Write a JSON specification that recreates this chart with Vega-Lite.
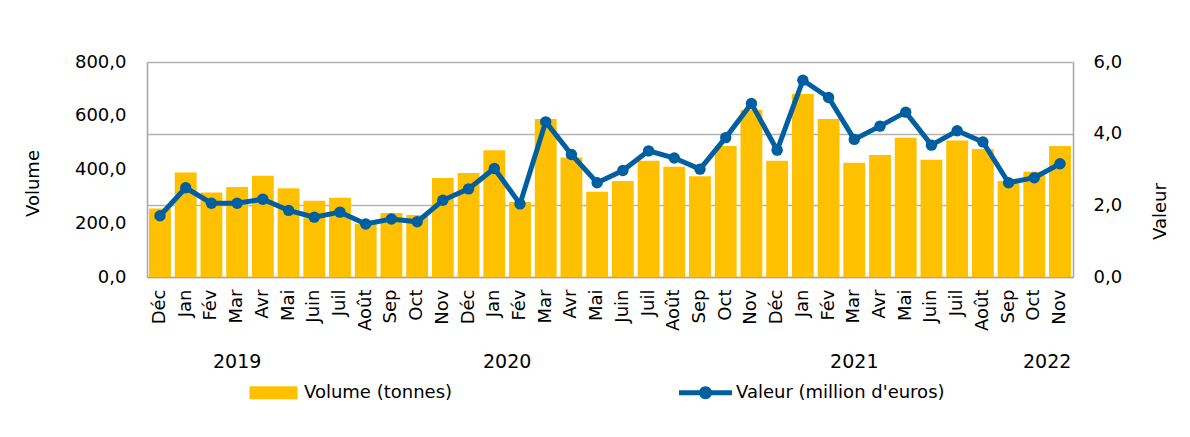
{
  "$schema": "https://vega.github.io/schema/vega-lite/v6.json",
  "autosize": {"type": "none"},
  "padding": {"left": 147, "top": 62, "right": 117, "bottom": 160},
  "width": 926,
  "height": 215,
  "background": "white",
  "config": {
    "font": "DejaVu Sans",
    "view": {"stroke": null},
    "axis": {"labelFontSize": 18, "labelColor": "#000000", "titleFontSize": 18, "titleFontWeight": "normal", "titleColor": "#000000", "domainColor": "#a6a6a6", "ticks": false}
  },
  "data": {
    "values": [
      {"mois": "Déc 2018", "volume": 255, "valeur": 1.71},
      {"mois": "Jan 2019", "volume": 389, "valeur": 2.49},
      {"mois": "Fév 2019", "volume": 314, "valeur": 2.06},
      {"mois": "Mar 2019", "volume": 335, "valeur": 2.06},
      {"mois": "Avr 2019", "volume": 377, "valeur": 2.17},
      {"mois": "Mai 2019", "volume": 330, "valeur": 1.86},
      {"mois": "Juin 2019", "volume": 284, "valeur": 1.67},
      {"mois": "Juil 2019", "volume": 295, "valeur": 1.81},
      {"mois": "Août 2019", "volume": 198, "valeur": 1.48},
      {"mois": "Sep 2019", "volume": 238, "valeur": 1.62},
      {"mois": "Oct 2019", "volume": 231, "valeur": 1.54},
      {"mois": "Nov 2019", "volume": 368, "valeur": 2.14},
      {"mois": "Déc 2019", "volume": 387, "valeur": 2.46},
      {"mois": "Jan 2020", "volume": 472, "valeur": 3.03},
      {"mois": "Fév 2020", "volume": 279, "valeur": 2.04},
      {"mois": "Mar 2020", "volume": 588, "valeur": 4.33},
      {"mois": "Avr 2020", "volume": 445, "valeur": 3.42},
      {"mois": "Mai 2020", "volume": 317, "valeur": 2.63},
      {"mois": "Juin 2020", "volume": 357, "valeur": 2.97},
      {"mois": "Juil 2020", "volume": 433, "valeur": 3.52},
      {"mois": "Août 2020", "volume": 410, "valeur": 3.32},
      {"mois": "Sep 2020", "volume": 375, "valeur": 3.01},
      {"mois": "Oct 2020", "volume": 487, "valeur": 3.89},
      {"mois": "Nov 2020", "volume": 621, "valeur": 4.84},
      {"mois": "Déc 2020", "volume": 433, "valeur": 3.54},
      {"mois": "Jan 2021", "volume": 681, "valeur": 5.49},
      {"mois": "Fév 2021", "volume": 588, "valeur": 5.01},
      {"mois": "Mar 2021", "volume": 425, "valeur": 3.84},
      {"mois": "Avr 2021", "volume": 454, "valeur": 4.21},
      {"mois": "Mai 2021", "volume": 518, "valeur": 4.60},
      {"mois": "Juin 2021", "volume": 436, "valeur": 3.68},
      {"mois": "Juil 2021", "volume": 508, "valeur": 4.08},
      {"mois": "Août 2021", "volume": 476, "valeur": 3.77},
      {"mois": "Sep 2021", "volume": 357, "valeur": 2.63},
      {"mois": "Oct 2021", "volume": 392, "valeur": 2.77},
      {"mois": "Nov 2021", "volume": 487, "valeur": 3.16}
    ]
  },
  "layer": [
    {
      "mark": {"type": "bar"},
      "encoding": {
        "x": {
          "field": "mois", "type": "nominal", "sort": null,
          "scale": {"paddingInner": 0.15, "paddingOuter": 0.08},
          "axis": {"orient": "bottom", "title": null, "labelAngle": -90, "labelPadding": 12, "labelOverlap": false, "labelExpr": "split(datum.label, ' ')[0]", "domainWidth": 1.5}
        },
        "y": {
          "field": "volume", "type": "quantitative",
          "scale": {"domain": [0, 800], "nice": false},
          "axis": {"orient": "left", "title": "Volume", "values": [0, 200, 400, 600, 800], "grid": false, "labelPadding": 21, "titlePadding": 32, "titleY": 121, "labelExpr": "replace(format(datum.value, '.1f'), '.', ',')", "domainWidth": 1.5}
        },
        "color": {
          "datum": "Volume (tonnes)",
          "scale": {"domain": ["Volume (tonnes)", "Valeur (million d'euros)"], "range": ["#ffc000", "#005fa0"]},
          "legend": {
            "orient": "none", "legendX": 100, "legendY": 304, "direction": "horizontal", "title": null,
            "symbolSize": 2809, "labelOffset": 4, "columnPadding": 226, "labelFontSize": 18, "labelColor": "#000000", "labelLimit": 400, "padding": 0,
            "encode": {"symbols": {"update": {
              "shape": {"signal": "datum.value == 'Volume (tonnes)' ? 'M-0.906,-0.245H0.906V0.245H-0.906Z' : 'M-1,-0.094H1V0.094H-1Z M0.245,0A0.245,0.245 0 1,1 -0.245,0A0.245,0.245 0 1,1 0.245,0Z'"},
              "fill": {"scale": "color", "field": "value"},
              "fillOpacity": {"value": 1},
              "strokeWidth": {"value": 0}
            }}}
          }
        }
      }
    },
    {
      "mark": {"type": "line", "strokeWidth": 5, "point": {"filled": true, "size": 130}},
      "encoding": {
        "x": {
          "field": "mois", "type": "nominal", "sort": null,
          "axis": {"orient": "bottom", "title": null, "labelAngle": 0, "labelPadding": 75, "labelOverlap": false, "domain": false, "labelFontSize": 19, "labelBaseline": "top", "labelAlign": "center",
            "labelExpr": "datum.value == 'Mar 2019' ? '2019' : datum.value == 'Jan 2020' ? '2020' : datum.value == 'Mar 2021' ? '2021' : datum.value == 'Oct 2021' ? '2022' : ''",
            "labelOffset": {"condition": {"test": "datum.value == 'Jan 2020' || datum.value == 'Oct 2021'", "value": 12.86}, "value": 0}
          }
        },
        "y": {
          "field": "valeur", "type": "quantitative",
          "scale": {"domain": [0, 6], "nice": false},
          "axis": {"orient": "right", "title": "Valeur", "values": [0, 2, 4, 6], "grid": true, "gridColor": "#b3b3b3", "gridWidth": 1.5, "labelPadding": 20, "titlePadding": 48, "titleAngle": 270, "titleY": 149, "labelExpr": "replace(format(datum.value, '.1f'), '.', ',')", "domainWidth": 1.5}
        },
        "color": {"datum": "Valeur (million d'euros)"}
      }
    }
  ],
  "resolve": {"scale": {"y": "independent"}, "axis": {"x": "independent"}}
}
